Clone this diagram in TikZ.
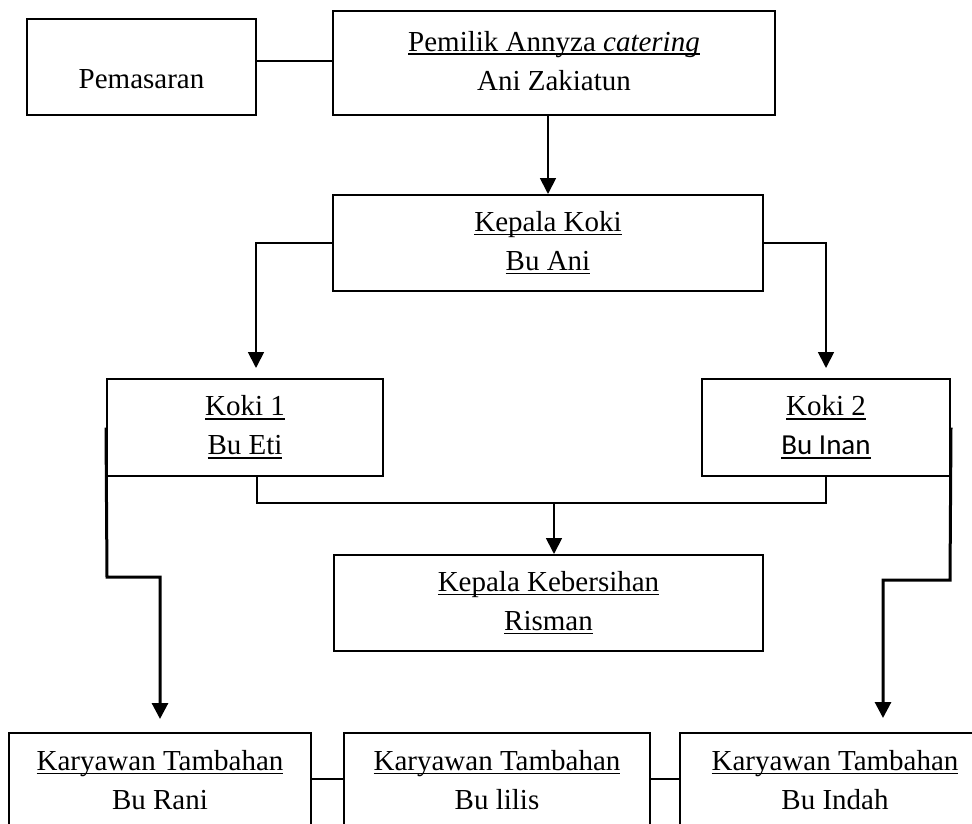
\documentclass[tikz,border=0pt]{standalone}
\usepackage{fontspec}
\setmainfont{Liberation Serif}
\newfontfamily\calibri{Carlito}
\usetikzlibrary{arrows.meta}
\newcommand\garis[1]{\setbox0\hbox{#1}\rlap{\rule[-4pt]{\wd0}{1.8pt}}\box0}

\begin{document}
\begin{tikzpicture}[x=1pt,y=-1pt,
  kotak/.style={draw,line width=2pt,inner sep=0pt,align=center,font=\fontsize{29}{39}\selectfont},
  garisan/.style={line width=1.8pt},
  panah/.style={line width=1.8pt,-{Triangle[length=16pt,width=16pt]}},
  panahtebal/.style={line width=3pt,-{Triangle[length=16pt,width=16pt]}}]
\clip (0,0) rectangle (972,824);
\node[kotak,minimum width=229pt,text height=70pt,text depth=26pt] (pemasaran) at (141.5,67) {Pemasaran};
\node[kotak,minimum width=442pt,minimum height=104pt] (pemilik) at (554,63) {\garis{\strut Pemilik Annyza \textit{catering}}\\\strut Ani Zakiatun};
\node[kotak,minimum width=430pt,minimum height=96pt] (kepalakoki) at (548,243) {\garis{\strut Kepala Koki}\\\garis{\strut Bu Ani}};
\node[kotak,minimum width=276pt,minimum height=97pt] (koki1) at (245,427.5) {\garis{\strut Koki 1}\\\garis{\strut Bu Eti}};
\node[kotak,minimum width=248pt,minimum height=97pt] (koki2) at (826,427.5) {\garis{\strut Koki 2}\\\calibri\garis{\strut Bu Inan}};
\node[kotak,minimum width=429pt,minimum height=96pt] (kebersihan) at (548.5,603) {\garis{\strut Kepala Kebersihan}\\\garis{\strut Risman}};
\node[kotak,minimum width=302pt,minimum height=98pt] (kt1) at (160,782) {\garis{\strut Karyawan Tambahan}\\\strut Bu Rani};
\node[kotak,minimum width=306pt,minimum height=98pt] (kt2) at (497,782) {\garis{\strut Karyawan Tambahan}\\\strut Bu lilis};
\node[kotak,minimum width=310pt,minimum height=98pt] (kt3) at (835,782) {\garis{\strut Karyawan Tambahan}\\\strut Bu Indah};
\coordinate (temu) at (554,503);
\coordinate (belokkiri) at (107,577);
\coordinate (belokkanan) at (950,580);
\draw[garisan] ([yshift=2pt]pemasaran.east |- pemilik.west) -- ([yshift=2pt]pemilik.west);
\draw[panah] (pemilik.south -| kepalakoki.north) -- (kepalakoki.north);
\draw[panah] (kepalakoki.west) -| ([xshift=11pt,yshift=10pt]koki1.north);
\draw[panah] (kepalakoki.east) -| ([yshift=10pt]koki2.north);
\draw[garisan] ([xshift=12pt]koki1.south) |- (temu) -| (koki2.south);
\draw[panah] (temu) -- (temu |- kebersihan.north);
\draw[panahtebal] (koki1.west) -- (belokkiri) -| ([yshift=13pt]kt1.north);
\draw[panahtebal] (koki2.east) -- (belokkanan) -| ([xshift=48pt,yshift=14pt]kt3.north);
\draw[garisan] ([yshift=3pt]kt1.east) -- ([yshift=3pt]kt2.west);
\draw[garisan] ([yshift=3pt]kt2.east) -- ([yshift=3pt]kt3.west);
\end{tikzpicture}
\end{document}
